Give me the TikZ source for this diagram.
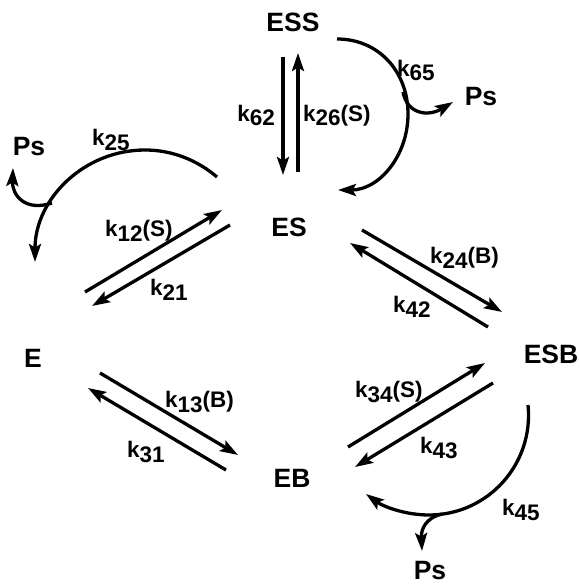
\documentclass[tikz,border=0pt]{standalone}
\usepackage{fontspec}
\setmainfont{Liberation Sans}
\usetikzlibrary{arrows.meta}
% rate constant: k with a lowered index, then an optional suffix
\newcommand\rateconst[2]{k\raisebox{-5pt}{#1}#2}
\begin{document}
\begin{tikzpicture}[x=1pt,y=-1pt,
  species/.style={font=\fontsize{26.5}{30}\selectfont\bfseries,inner sep=0pt,anchor=base},
  ratelbl/.style={font=\fontsize{22.5}{26}\selectfont\bfseries,inner sep=0pt,anchor=base west},
  flow/.style={line width=3.3pt,-{Stealth[length=18pt,width=12pt,inset=3.5pt]}}]
\path[use as bounding box] (0,0) rectangle (580,586);

% species
\node[species] (ESS) at (293,32) {ESS};
\node[species] (ES)  at (289,236) {ES};
\node[species] (E)   at (33,367) {E};
\node[species] (ESB) at (551,363) {ESB};
\node[species] (EB)  at (292,487) {EB};
\node[species] (PsL) at (29,155) {Ps};
\node[species] (PsR) at (481,105) {Ps};
\node[species] (PsB) at (430,579) {Ps};

% ends of the reversible arrows
\coordinate (ess-a) at (283,57);  \coordinate (es-a) at (283,175);
\coordinate (es-b) at (298,172);  \coordinate (ess-b) at (298,53);
\coordinate (e-a) at (85,292);    \coordinate (es-c) at (222,210);
\coordinate (es-d) at (230,225);  \coordinate (e-b) at (92,306);
\coordinate (es-e) at (362,230);  \coordinate (esb-a) at (502,312);
\coordinate (esb-b) at (488,327); \coordinate (es-f) at (350,243);
\coordinate (e-c) at (100,373);   \coordinate (eb-a) at (238,455);
\coordinate (eb-b) at (226,470);  \coordinate (e-d) at (88,388);
\coordinate (eb-c) at (348,447);  \coordinate (esb-c) at (485,363);
\coordinate (esb-d) at (493,383); \coordinate (eb-d) at (355,467);

\draw[flow] (ess-a) -- (es-a);
\draw[flow] (es-b) -- (ess-b);
\draw[flow] (e-a) -- (es-c);
\draw[flow] (es-d) -- (e-b);
\draw[flow] (es-e) -- (esb-a);
\draw[flow] (esb-b) -- (es-f);
\draw[flow] (e-c) -- (eb-a);
\draw[flow] (eb-b) -- (e-d);
\draw[flow] (eb-c) -- (esb-c);
\draw[flow] (esb-d) -- (eb-d);

% product release loops
\coordinate (ess-o) at (337,39);  \coordinate (es-in) at (338,190);
\coordinate (br65) at (403,92);   \coordinate (ps-r) at (453,102);
\draw[flow] (ess-o) .. controls (379,39) and (408,72) .. (408,114)
            .. controls (408,156) and (379,190) .. (es-in);
\draw[flow] (br65) .. controls (407,114) and (428,117) .. (ps-r);

\coordinate (es-o) at (217,177);  \coordinate (e-in) at (35,262);
\coordinate (br25) at (52,203);   \coordinate (ps-l) at (13,168);
\draw[flow] (es-o) .. controls (197,160) and (172,150) .. (145,150)
            .. controls (84,150) and (35,199) .. (e-in);
\draw[flow] (br25) .. controls (25,212) and (12,195) .. (ps-l);

\coordinate (esb-o) at (528,405); \coordinate (eb-in) at (366,494);
\coordinate (br45) at (442,514);  \coordinate (ps-b) at (422,551);
\draw[flow] (esb-o) .. controls (534,464) and (488,515) .. (429,515)
            .. controls (406,515) and (384,507) .. (eb-in);
\draw[flow] (br45) .. controls (425,518) and (421,530) .. (ps-b);

% rate constants
\node[ratelbl,anchor=base east] (k62) at (275,121) {\rateconst{62}{}};
\node[ratelbl] (k26) at (303,121) {\rateconst{26}{(S)}};
\node[ratelbl] (k65) at (397,76)  {\rateconst{65}{}};
\node[ratelbl] (k25) at (92,145)  {\rateconst{25}{}};
\node[ratelbl] (k12) at (105,236) {\rateconst{12}{(S)}};
\node[ratelbl] (k21) at (150,295) {\rateconst{21}{}};
\node[ratelbl] (k24) at (430,263) {\rateconst{24}{(B)}};
\node[ratelbl] (k42) at (393,312) {\rateconst{42}{}};
\node[ratelbl] (k13) at (165,407) {\rateconst{13}{(B)}};
\node[ratelbl] (k31) at (127,457) {\rateconst{31}{}};
\node[ratelbl] (k34) at (355,397) {\rateconst{34}{(S)}};
\node[ratelbl] (k43) at (420,453) {\rateconst{43}{}};
\node[ratelbl] (k45) at (502,515) {\rateconst{45}{}};
\end{tikzpicture}
\end{document}
